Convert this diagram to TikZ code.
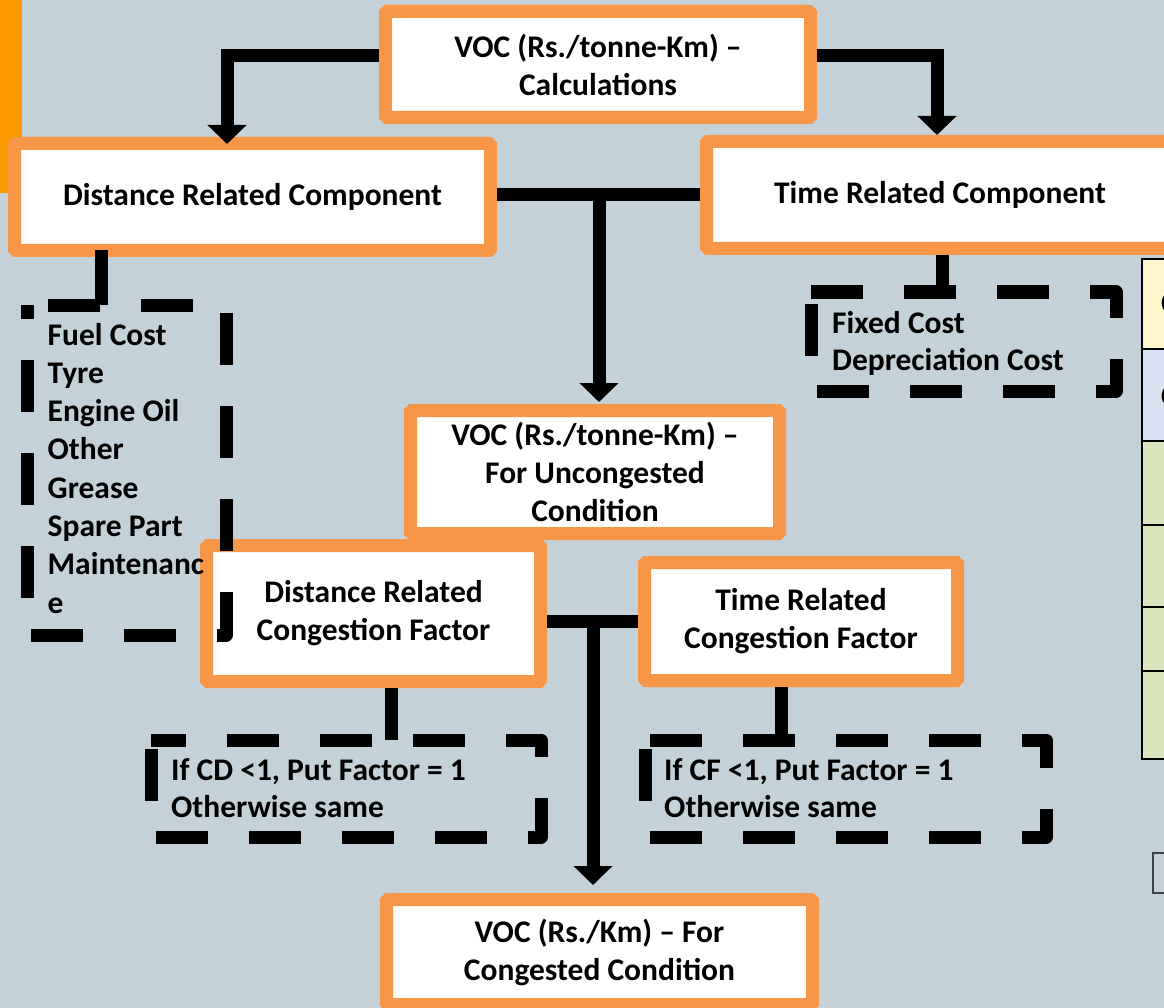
\documentclass[tikz,border=0pt]{standalone}
\usepackage{fontspec}
\setmainfont{Carlito}
\usetikzlibrary{arrows.meta,calc}
\definecolor{bg}{HTML}{C5D1D8}
\definecolor{boxorange}{HTML}{F79646}
\definecolor{barorange}{HTML}{FF9900}
\definecolor{tyellow}{HTML}{FFF5CC}
\definecolor{tblue}{HTML}{DAE3F3}
\definecolor{tgreen}{HTML}{D8E4BC}
\begin{document}
\begin{tikzpicture}[x=1pt,y=-1pt,
  box/.style={draw=boxorange, line width=13pt, fill=white, rounded corners=1.5pt, align=center, inner sep=0pt, font=\bfseries\fontsize{31.5}{38}\selectfont},
  dbox/.style={draw=none, inner sep=0pt, outer sep=0pt},
  dashline/.style={line width=13pt, dash pattern=on 52pt off 41pt, line join=round},
  conn/.style={line width=13pt, -{Triangle[width=38pt,length=19pt]}},
  link/.style={line width=13pt},
  lbl/.style={inner sep=0pt, anchor=base west, font=\bfseries\fontsize{31.5}{37.5}\selectfont}
]
\useasboundingbox (0,0) rectangle (1164,1008);
\fill[bg] (0,0) rectangle (1164,1008);
\fill[barorange] (0,0) rectangle (22,193);

% partial table at right edge
\fill[tyellow] (1142,259) rectangle (1200,349);
\fill[tblue] (1142,349) rectangle (1200,441);
\fill[tgreen] (1142,441) rectangle (1200,759);
\draw[line width=2pt] (1200,259) -- (1142,259) -- (1142,759) -- (1200,759);
\draw[line width=1.5pt] (1142,349) -- (1200,349) (1142,441) -- (1200,441)
  (1142,525) -- (1200,525) (1142,607) -- (1200,607) (1142,671) -- (1200,671);
\node[lbl] (t1) at (1161,313) {C};
\node[lbl] (t2) at (1161,406) {C};
\draw[black!75, line width=1.5pt] (1153,853) rectangle (1200,893);

% main boxes
\node[box, minimum width=425pt, minimum height=106pt] (A) at (598,64.5) {VOC (Rs./tonne-Km) –\\Calculations};
\node[box, minimum width=476pt, minimum height=107pt] (B) at (252.5,197) {Distance Related Component};
\node[box, minimum width=467pt, minimum height=107pt] (C) at (940,195) {Time Related Component};
\node[box, minimum width=369pt, minimum height=123pt] (D) at (595,472) {VOC (Rs./tonne-Km) –\\For Uncongested\\Condition};
\node[box, minimum width=334pt, minimum height=136pt] (E) at (373.5,613.5) {Distance Related\\Congestion Factor};
\node[box, minimum width=313pt, minimum height=118pt] (F) at (801,621.5) {Time Related\\Congestion Factor};
\node[box, minimum width=426pt, minimum height=105pt] (G) at (599.5,952) {VOC (Rs./Km) – For\\Congested Condition};

% dashed boxes
\node[dbox, minimum width=199pt, minimum height=330pt] (L) at (126.5,470) {};
\node[dbox, minimum width=305pt, minimum height=99pt] (FC) at (963.5,341.5) {};
\node[dbox, minimum width=390pt, minimum height=97pt] (CD) at (346,788.5) {};
\node[dbox, minimum width=401pt, minimum height=97pt] (CF) at (845.5,788.5) {};
\draw[dashline, dash phase=72pt] (L.north west) -- (L.north east) -- (L.south east) -- (L.south west) -- cycle;
\draw[dashline, dash phase=0pt] (FC.north west) -- (FC.north east) -- (FC.south east) -- (FC.south west) -- cycle;
\draw[dashline, dash phase=17pt] (CD.north west) -- (CD.north east) -- (CD.south east) -- (CD.south west) -- cycle;
\draw[dashline, dash phase=88pt] (CF.north west) -- (CF.north east) -- (CF.south east) -- (CF.south west) -- cycle;

\node[lbl, font=\bfseries\fontsize{31.5}{38.3}\selectfont] (Ltext) at (47.5,345) {\begin{tabular}[t]{@{}l@{}}Fuel Cost\\Tyre\\Engine Oil\\Other\\Grease\\Spare Part\\Maintenanc\\e\end{tabular}};
\node[lbl] (FCtext) at (832,333) {\begin{tabular}[t]{@{}l@{}}Fixed Cost\\Depreciation Cost\end{tabular}};
\node[lbl] (CDtext) at (171,780) {\begin{tabular}[t]{@{}l@{}}If CD <1, Put Factor = 1\\Otherwise same\end{tabular}};
\node[lbl] (CFtext) at (664,780) {\begin{tabular}[t]{@{}l@{}}If CF <1, Put Factor = 1\\Otherwise same\end{tabular}};

% connectors
\draw[conn] ([yshift=8.5pt]A.west) -| ($(B.north)+(-25.5,7)$);
\draw[conn] ([yshift=8.5pt]A.east) -| ($(C.north)+(-3,0)$);
\coordinate (j1) at (599,195);
\draw[link] (B.east |- j1) -- (C.west |- j1);
\draw[conn] (j1) -- ($(j1 |- D.north)+(0,-2)$);
\coordinate (j2) at (593,621);
\draw[link] (E.east |- j2) -- (F.west |- j2);
\draw[conn] (j2) -- ($(j2 |- G.north)+(0,-8)$);

\coordinate (s1) at ($(B.south)+(-151.5,-7)$);
\draw[link] (s1) -- (s1 |- L.north);
\coordinate (s2) at ($(C.south)+(2,0)$);
\draw[link] (s2) -- (s2 |- FC.north);
\coordinate (s3) at ($(E.south)+(17.5,0)$);
\draw[link] (s3) -- (s3 |- CD.north);
\coordinate (s4) at ($(F.south)+(-20,0)$);
\draw[link] (s4) -- (s4 |- CF.north);
\end{tikzpicture}
\end{document}
